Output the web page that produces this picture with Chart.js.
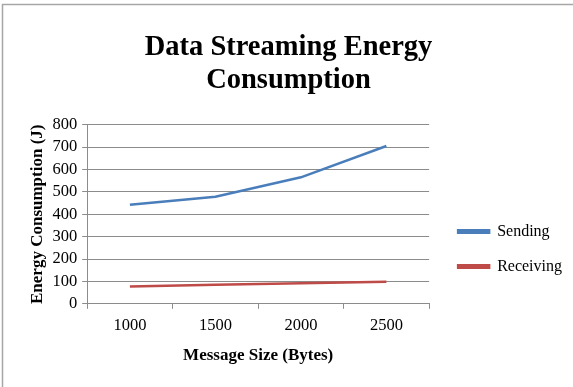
<!DOCTYPE html>
<html>
<head>
<meta charset="utf-8">
<script src="https://cdn.jsdelivr.net/npm/chart.js@4/dist/chart.umd.min.js"></script>
<style>
  html, body { margin: 0; padding: 0; background: #ffffff; }
  #wrap { position: relative; width: 573px; height: 387px; }
</style>
</head>
<body>
<div id="wrap"><canvas id="chart" width="573" height="387"></canvas></div>
<script>
// Message sizes on the x axis (bytes)
const messageSizes = ['1000', '1500', '2000', '2500'];
// Energy used per message size (J)
const sendingEnergy = [442, 478, 565, 705];
const receivingEnergy = [77, 85, 92, 98];
const yTicks = [0, 100, 200, 300, 400, 500, 600, 700, 800];

const serif = '"Liberation Serif", "Times New Roman", serif';

// Thin grey frame along the top and left edges of the chart
const framePlugin = {
  id: 'frame',
  beforeDraw(chart) {
    const ctx = chart.ctx;
    ctx.save();
    ctx.strokeStyle = '#a6a6a6';
    ctx.lineWidth = 1.5;
    ctx.beginPath();
    ctx.moveTo(2.5, chart.height);
    ctx.lineTo(2.5, 4.5);
    ctx.lineTo(chart.width, 4.5);
    ctx.stroke();
    ctx.restore();
  }
};

// Nudge the legend block away from the plot area
const legendOffset = { dx: 10, dy: 66 };
const legendShiftPlugin = {
  id: 'legendShift',
  afterLayout(chart) {
    const lg = chart.legend;
    if (!lg) return;
    lg.left += legendOffset.dx;
    lg.right += legendOffset.dx;
    lg.top += legendOffset.dy;
    lg.bottom += legendOffset.dy;
  }
};

new Chart(document.getElementById('chart'), {
  type: 'line',
  data: {
    labels: messageSizes,
    datasets: [
      {
        label: 'Sending',
        data: sendingEnergy,
        borderColor: '#4a7ebb',
        backgroundColor: '#4a7ebb',
        borderWidth: 2.5,
        pointRadius: 0,
        tension: 0
      },
      {
        label: 'Receiving',
        data: receivingEnergy,
        borderColor: '#be4b48',
        backgroundColor: '#be4b48',
        borderWidth: 2.5,
        pointRadius: 0,
        tension: 0
      }
    ]
  },
  options: {
    responsive: false,
    animation: false,
    layout: { padding: { left: 15, right: 11, top: 0, bottom: 21 } },
    plugins: {
      title: {
        display: true,
        text: ['Data Streaming Energy', 'Consumption'],
        color: '#000000',
        font: { family: serif, size: 28.5, weight: 'bold', lineHeight: 1.17 },
        padding: { top: 31, bottom: 27 }
      },
      legend: {
        position: 'right',
        labels: {
          color: '#000000',
          font: { family: serif, size: 16 },
          boxWidth: 31,
          boxHeight: 2.5,
          padding: 19
        }
      },
      tooltip: { enabled: false }
    },
    scales: {
      x: {
        offset: true,
        grid: {
          offset: true,
          drawOnChartArea: false,
          drawTicks: true,
          tickLength: 5,
          color: '#8c8c8c'
        },
        border: { color: '#8c8c8c', width: 1 },
        ticks: { color: '#000000', font: { family: serif, size: 16.5 }, padding: 7, autoSkip: false, maxRotation: 0 },
        title: {
          display: true,
          text: 'Message Size (Bytes)',
          color: '#000000',
          font: { family: serif, size: 17, weight: 'bold' },
          padding: { top: 3, bottom: 0 }
        }
      },
      y: {
        min: 0,
        max: 800,
        afterBuildTicks(scale) {
          scale.ticks = yTicks.map(v => ({ value: v }));
        },
        grid: {
          color: '#8c8c8c',
          tickLength: 5,
          lineWidth: 1
        },
        border: { color: '#8c8c8c', width: 1 },
        ticks: { color: '#000000', font: { family: serif, size: 16.5 }, padding: 5, autoSkip: false },
        title: {
          display: true,
          text: 'Energy Consumption (J)',
          color: '#000000',
          font: { family: serif, size: 17, weight: 'bold' },
          padding: { top: 12, bottom: 0 }
        }
      }
    }
  },
  plugins: [framePlugin, legendShiftPlugin]
});
</script>
</body>
</html>
